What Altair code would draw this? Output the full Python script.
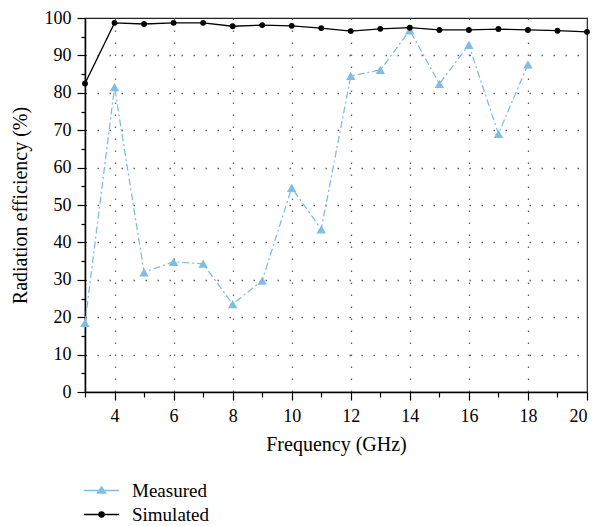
import altair as alt
import pandas as pd

freq_sim = list(range(3, 21))
simulated = [82.5, 98.7, 98.4, 98.7, 98.7, 97.8, 98.1, 97.9, 97.3, 96.5,
             97.1, 97.4, 96.8, 96.8, 97.05, 96.8, 96.6, 96.3]
freq_meas = list(range(3, 19))
measured = [18.5, 81.5, 32.0, 34.8, 34.3, 23.5, 29.8, 54.6, 43.5, 84.5,
            86.1, 96.7, 82.4, 92.8, 69.0, 87.6]

series_names = ["Measured", "Simulated"]
series_colors = ["#80bde3", "#000000"]
x_ticks = list(range(3, 21))
y_ticks = list(range(0, 101, 5))

df_sim = pd.DataFrame({"freq": freq_sim, "eff": simulated, "series": "Simulated"})
df_meas = pd.DataFrame({"freq": freq_meas, "eff": measured, "series": "Measured"})
df_all = pd.concat([df_meas, df_sim], ignore_index=True)

FONT = "Liberation Serif"

x_enc = alt.X(
    "freq:Q",
    scale=alt.Scale(domain=[3, 20], nice=False, zero=False),
    axis=alt.Axis(
        values=x_ticks,
        tickCount=100,
        format="d",
        title="Frequency (GHz)",
        labelExpr="datum.value % 2 == 0 ? datum.label : ''",
        labelOverlap=False,
        tickSize={"condition": {"test": "datum.value % 2 == 0", "value": 8}, "value": 5},
        gridOpacity={"condition": {"test": "datum.value % 2 == 1 || datum.value == 20", "value": 0}, "value": 1},
        labelPadding=7,
        titlePadding=9,
    ),
)
y_enc = alt.Y(
    "eff:Q",
    scale=alt.Scale(domain=[0, 100], nice=False),
    axis=alt.Axis(
        values=y_ticks,
        tickCount=100,
        format="d",
        title="Radiation efficiency (%)",
        labelExpr="datum.value % 10 == 0 ? datum.label : ''",
        labelOverlap=False,
        tickSize={"condition": {"test": "datum.value % 10 == 0", "value": 8}, "value": 4},
        gridOpacity={"condition": {"test": "datum.value % 10 != 0 || datum.value == 0 || datum.value == 100", "value": 0}, "value": 1},
        labelPadding=6,
        titlePadding=14,
    ),
)

meas_line = alt.Chart(df_meas).mark_line(
    color=series_colors[0], strokeWidth=1.3, strokeDash=[7, 3, 2, 3]
).encode(x=x_enc, y=y_enc)
meas_pts = alt.Chart(df_meas).mark_point(
    shape="triangle-up", filled=True, color=series_colors[0], size=90, opacity=1
).encode(x="freq:Q", y="eff:Q")

sim_line = alt.Chart(df_sim).mark_line(color=series_colors[1], strokeWidth=1.3).encode(
    x="freq:Q", y="eff:Q"
)
sim_pts = alt.Chart(df_sim).mark_point(
    shape="circle", filled=True, color=series_colors[1], size=34, opacity=1
).encode(x="freq:Q", y="eff:Q")

legend_paths = [
    "M-1.4,0H1.4M0,-0.28L0.32,0.2L-0.32,0.2Z",
    "M-1.4,0H1.4M0.2,0A0.2,0.2,0,1,1,-0.2,0A0.2,0.2,0,1,1,0.2,0Z",
]
leg = alt.Legend(
    title=None,
    orient="none",
    legendX=3,
    legendY=459,
    symbolSize=625,
    symbolStrokeWidth=1.5,
    labelFont=FONT,
    labelFontSize=19,
    labelColor="#000",
    labelOffset=17,
    rowPadding=0,
    padding=0,
)
legend_layer = alt.Chart(df_all).mark_point(filled=True, opacity=1, strokeWidth=1.5).encode(
    x="freq:Q",
    y="eff:Q",
    fill=alt.Fill("series:N", scale=alt.Scale(domain=series_names, range=series_colors), legend=leg),
    stroke=alt.Stroke("series:N", scale=alt.Scale(domain=series_names, range=series_colors), legend=leg),
    shape=alt.Shape("series:N", scale=alt.Scale(domain=series_names, range=legend_paths), legend=leg),
).transform_filter("false")

chart = alt.layer(meas_line, meas_pts, sim_line, sim_pts, legend_layer).properties(
    width=502,
    height=374,
    autosize=alt.AutoSizeParams(type="none"),
    padding={"left": 77, "top": 10, "right": 15, "bottom": 134},
    background="white",
).configure_view(
    stroke="#222", strokeWidth=1.2
).configure_axis(
    labelFont=FONT,
    titleFont=FONT,
    labelFontSize=18,
    titleFontSize=20,
    titleFontWeight="normal",
    labelColor="#000",
    titleColor="#000",
    domainColor="#000",
    domainWidth=1.5,
    tickColor="#000",
    tickWidth=1.2,
    gridColor="#666",
    gridDash=[1.5, 10.5],
    gridWidth=1.3,
)

chart.save("out.html", embed_options={"renderer": "svg", "actions": False})
